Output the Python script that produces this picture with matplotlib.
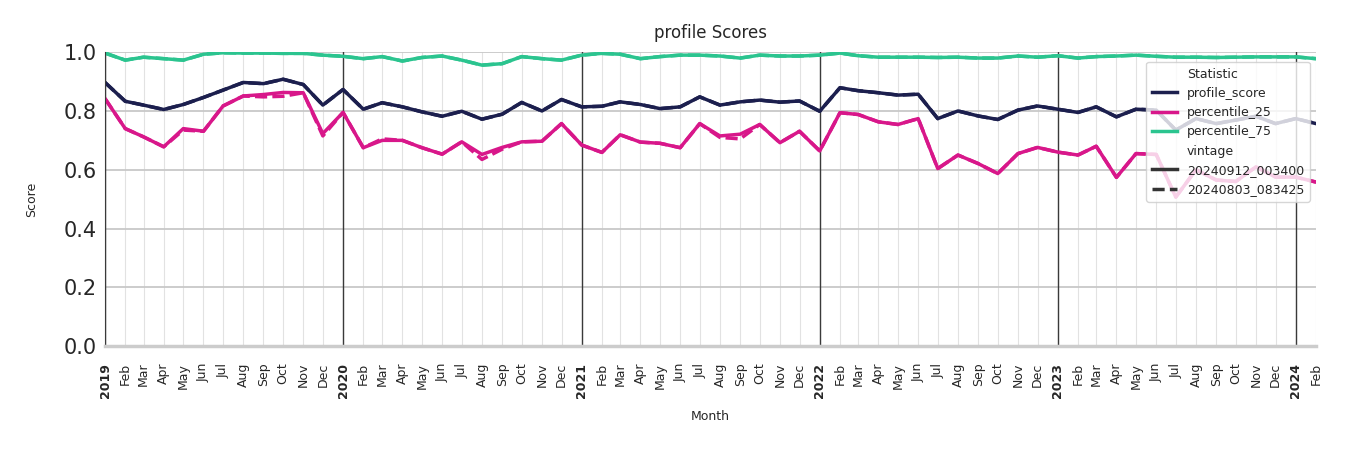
import numpy as np
import pandas as pd
import matplotlib
matplotlib.use('Agg')
import matplotlib.pyplot as plt
from matplotlib.lines import Line2D

months = pd.date_range('2019-01-01', '2024-02-01', freq='MS')

# vintage 20240912_003400
profile_score = [0.897, 0.833, 0.82, 0.805, 0.822, 0.846, 0.871, 0.897, 0.893, 0.908, 0.89, 0.82,
                 0.873, 0.806, 0.828, 0.814, 0.797, 0.782, 0.799, 0.772, 0.789, 0.829, 0.80, 0.839,
                 0.814, 0.816, 0.831, 0.822, 0.808, 0.814, 0.848, 0.82, 0.831, 0.837, 0.83, 0.834,
                 0.799, 0.879, 0.869, 0.862, 0.854, 0.857, 0.774, 0.80, 0.783, 0.771, 0.803, 0.817,
                 0.806, 0.795, 0.814, 0.780, 0.806, 0.803, 0.735, 0.774, 0.757, 0.769, 0.782, 0.757,
                 0.774, 0.757]
percentile_25 = [0.842, 0.740, 0.712, 0.678, 0.74, 0.731, 0.817, 0.851, 0.856, 0.863, 0.862, 0.723,
                 0.795, 0.675, 0.70, 0.70, 0.675, 0.653, 0.695, 0.652, 0.676, 0.695, 0.697, 0.757,
                 0.684, 0.659, 0.719, 0.694, 0.690, 0.675, 0.757, 0.715, 0.721, 0.754, 0.692, 0.731,
                 0.664, 0.794, 0.788, 0.763, 0.754, 0.774, 0.604, 0.65, 0.621, 0.587, 0.655, 0.676,
                 0.66, 0.65, 0.68, 0.574, 0.655, 0.652, 0.507, 0.60, 0.565, 0.56, 0.61, 0.575,
                 0.575, 0.558]
percentile_75 = [0.997, 0.973, 0.983, 0.978, 0.973, 0.993, 0.998, 0.997, 0.997, 0.996, 0.996, 0.99,
                 0.986, 0.978, 0.985, 0.97, 0.982, 0.987, 0.973, 0.956, 0.961, 0.985, 0.978, 0.973,
                 0.99, 0.996, 0.993, 0.978, 0.985, 0.99, 0.99, 0.987, 0.98, 0.99, 0.987, 0.987,
                 0.99, 0.997, 0.988, 0.983, 0.983, 0.983, 0.982, 0.983, 0.98, 0.98, 0.987, 0.983,
                 0.988, 0.98, 0.985, 0.987, 0.99, 0.986, 0.983, 0.983, 0.982, 0.983, 0.984, 0.984,
                 0.984, 0.978]

# vintage 20240803_083425 (only percentile_25 differs noticeably)
profile_score_old = list(profile_score)
percentile_75_old = list(percentile_75)
percentile_25_old = [0.842, 0.740, 0.712, 0.678, 0.735, 0.731, 0.817, 0.851, 0.848, 0.85, 0.862, 0.715,
                     0.795, 0.675, 0.705, 0.70, 0.675, 0.653, 0.695, 0.635, 0.67, 0.695, 0.697, 0.757,
                     0.684, 0.659, 0.719, 0.694, 0.690, 0.675, 0.757, 0.71, 0.705, 0.754, 0.692, 0.731,
                     0.664, 0.794, 0.788, 0.763, 0.754, 0.774, 0.604, 0.65, 0.621, 0.587, 0.655, 0.676,
                     0.66, 0.65, 0.68, 0.574, 0.655, 0.652, 0.507, 0.60, 0.565, 0.56, 0.61, 0.575,
                     0.575, 0.558]

stats = ['profile_score', 'percentile_25', 'percentile_75']
colors = {'profile_score': '#1c1f4e', 'percentile_25': '#d8178a', 'percentile_75': '#2bc48f'}
new_vals = {'profile_score': profile_score, 'percentile_25': percentile_25, 'percentile_75': percentile_75}
old_vals = {'profile_score': profile_score_old, 'percentile_25': percentile_25_old, 'percentile_75': percentile_75_old}

fig = plt.figure(figsize=(13.5, 4.5), dpi=100)
ax = fig.add_axes([0.0778, 0.231, 0.897, 0.653])

for s in stats:
    ax.plot(months, old_vals[s], color=colors[s], lw=2.5, ls=(0, (3.5, 1.5)))
    ax.plot(months, new_vals[s], color=colors[s], lw=2.5)

ax.set_xlim(months[0], months[-1])
ax.set_ylim(0, 1.0)
ax.set_yticks(np.arange(0, 1.01, 0.2))
ax.set_yticklabels(['%.1f' % v for v in np.arange(0, 1.01, 0.2)], fontsize=15, color='#262626')

ax.set_xticks(months)
labels = [str(d.year) if d.month == 1 else d.strftime('%b') for d in months]
ax.set_xticklabels(labels, rotation=90, fontsize=9, color='#262626')
for lbl, d in zip(ax.get_xticklabels(), months):
    if d.month == 1:
        lbl.set_fontweight('bold')
ax.tick_params(axis='y', length=0, pad=6)
ax.tick_params(axis='x', length=0, pad=12)

ax.grid(axis='y', color='#c8c8c8', lw=1.3)
ax.grid(axis='x', color='#e2e2e2', lw=0.8)
ax.set_axisbelow(True)
for d in months:
    if d.month == 1:
        ax.axvline(d, color='#3a3a3a', lw=1.0, zorder=1)

for sp in ['top', 'right']:
    ax.spines[sp].set_visible(False)
ax.spines['left'].set_color('#3a3a3a')
ax.spines['bottom'].set_color('#cccccc')
ax.spines['bottom'].set_linewidth(2.5)

ax.set_title('profile Scores', fontsize=12, color='#262626', pad=10)
ax.set_xlabel('Month', fontsize=9, color='#262626', labelpad=9)
ax.set_ylabel('Score', fontsize=9, color='#262626', labelpad=18)

blank = Line2D([], [], color='none')
handles = [blank] + [Line2D([], [], color=colors[s], lw=2.5) for s in stats] + [
    blank,
    Line2D([], [], color='#333333', lw=2.5),
    Line2D([], [], color='#333333', lw=2.5, ls=(0, (3.5, 1.5))),
]
leg_labels = ['Statistic'] + stats + ['vintage', '20240912_003400', '20240803_083425']
leg = ax.legend(handles, leg_labels, loc='upper right', bbox_to_anchor=(1.0, 0.988),
                fontsize=9, framealpha=0.8, handlelength=2.0, borderpad=0.45, labelspacing=0.5)
for t in leg.get_texts():
    t.set_color('#262626')

fig.savefig('out.png', dpi=100)
